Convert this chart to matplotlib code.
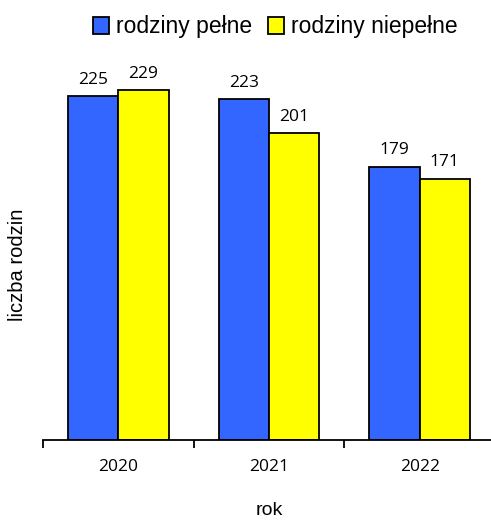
import numpy as np
import matplotlib.pyplot as plt

# dane z wykresu
lata = ['2020', '2021', '2022']
pelne = [225, 223, 179]
niepelne = [229, 201, 171]

fig = plt.figure(figsize=(4.91, 5.21), dpi=100)
ax = fig.add_axes([43/491, 81/521, 452/491, 385/521])

x = np.arange(len(lata))
w = 1/3
b1 = ax.bar(x - w/2, pelne, w, color='#3366FF', edgecolor='black', linewidth=1.3, label='rodziny pełne')
b2 = ax.bar(x + w/2, niepelne, w, color='#FFFF00', edgecolor='black', linewidth=1.3, label='rodziny niepełne')

for bars, vals in [(b1, pelne), (b2, niepelne)]:
    for r, v in zip(bars, vals):
        ax.annotate(str(v), (r.get_x() + r.get_width()/2, v), xytext=(0, 6),
                    textcoords='offset points', ha='center', va='bottom',
                    fontsize=12.5, family='Open Sans')

ax.set_xlim(-0.5, 2.5)
ax.set_ylim(0, 252)
for s in ['top', 'right', 'left']:
    ax.spines[s].set_visible(False)
ax.spines['bottom'].set_linewidth(1.3)
ax.set_yticks([])
ax.set_xticks([-0.5, 0.5, 1.5, 2.5])
ax.set_xticklabels([])
ax.tick_params(axis='x', length=6, width=1.3, direction='out')
ax.set_xticks(x, minor=True)
ax.set_xticklabels(lata, minor=True, fontsize=12.5, family='Open Sans')
ax.tick_params(axis='x', which='minor', length=0, pad=14)

ax.set_xlabel('rok', fontsize=14, family='Liberation Sans', labelpad=19)
fig.text(18/491, 1 - 265/521, 'liczba rodzin', rotation=90, ha='center', va='center',
         fontsize=14.5, family='Liberation Sans')

fig.legend(loc='center', bbox_to_anchor=(275/491, 1 - 27/521), ncol=2, frameon=False,
           handlelength=0.7, handleheight=0.7, handletextpad=0.3,
           columnspacing=0.7, prop={'family': 'Liberation Sans', 'size': 16.5})

fig.savefig('out.png', dpi=100)
